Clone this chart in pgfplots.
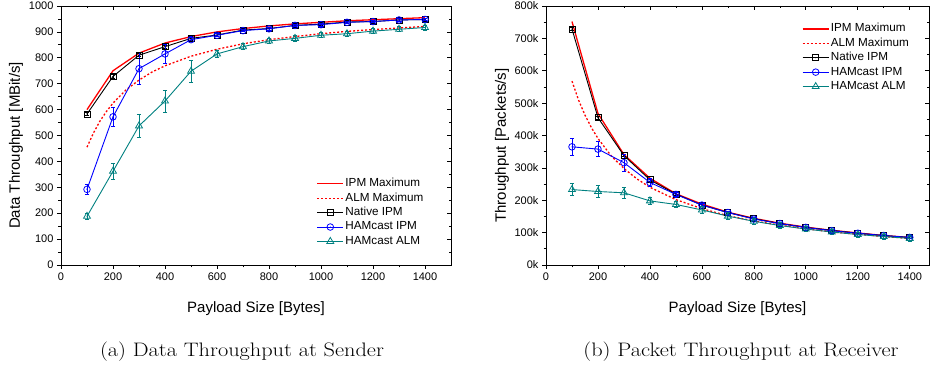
\documentclass[border=0pt]{standalone}
\usepackage{fontspec}
\newfontfamily\arial{Liberation Sans}
\usepackage{graphicx}
\usepackage{pgfplots}
\pgfplotsset{compat=1.18}
\definecolor{ipmred}{RGB}{255,0,0}
\definecolor{hamblue}{RGB}{0,0,255}
\definecolor{hamteal}{RGB}{0,128,128}
\pgfdeclareplotmark{sqdot}{\pgfuseplotmark{square}\pgfpathcircle{\pgfpointorigin}{0.55pt}\pgfusepathqfill}
\pgfdeclareplotmark{odot}{\pgfuseplotmark{o}\pgfpathcircle{\pgfpointorigin}{0.55pt}\pgfusepathqfill}
\pgfdeclareplotmark{tridot}{\pgfuseplotmark{triangle}\pgfpathcircle{\pgfpointorigin}{0.55pt}\pgfusepathqfill}
\pgfplotsset{
  baseaxis/.style={
    scale only axis, height=259pt, xmin=0,
    xtick={0,200,...,1400}, minor x tick num=1, minor y tick num=1,
    major tick length=4pt, minor tick length=2.5pt,
    tick style={black, line width=0.7pt},
    axis line style={black, line width=0.9pt},
    font=\arial,
    ticklabel style={font=\arial\fontsize{11}{13}\selectfont},
    /pgf/number format/1000 sep={},
    /pgf/number format/assume math mode=true,
  },
  mainaxis/.style={baseaxis, tick align=outside, xtick pos=left, ytick pos=left,
    xlabel style={at={(axis description cs:0.5,-0.1699)}, anchor=center, font=\arial\fontsize{15}{17}\selectfont},
    ylabel style={anchor=center, font=\arial\fontsize{15}{17}\selectfont},
    legend cell align=left,
    legend style={draw=none, fill=none, inner sep=0pt, row sep=0pt,
      font=\arial\fontsize{11.7}{14}\selectfont,
      nodes={inner sep=1.5pt, text height=8.6pt, text depth=2.8pt}},
    legend image code/.code={\draw[mark repeat=2,mark phase=2,##1] plot coordinates {(0pt,0pt) (13pt,0pt) (26pt,0pt)};},
  },
  overaxis/.style={baseaxis, tick align=inside, xtick pos=right, ytick pos=right,
    xticklabels={}, yticklabels={}},
  ipmmax/.style={color=ipmred, draw=ipmred, line width=1.3pt, no marks},
  almmax/.style={color=ipmred, draw=ipmred, line width=1.3pt, dash pattern=on 2pt off 2pt, no marks},
  native/.style={color=black, line width=0.9pt, mark=sqdot, mark size=3pt, mark options={solid, line width=0.8pt},
    error bars/error bar style={line width=0.8pt, black}, error bars/error mark options={rotate=90, mark size=2.2pt, line width=0.8pt, black}},
  hipm/.style={color=hamblue, line width=0.9pt, mark=odot, mark size=3.3pt, mark options={solid, line width=0.8pt},
    error bars/error bar style={line width=0.8pt, hamblue}, error bars/error mark options={rotate=90, mark size=2.2pt, line width=0.8pt, hamblue}},
  halm/.style={color=hamteal, line width=0.9pt, mark=tridot, mark size=4pt, mark options={solid, line width=0.8pt},
    error bars/error bar style={line width=0.8pt, hamteal}, error bars/error mark options={rotate=90, mark size=2.2pt, line width=0.8pt, hamteal}},
  errs/.style={error bars/.cd, y dir=both, y explicit},
}
\begin{document}
\begin{tikzpicture}
\useasboundingbox (0,0) rectangle (930pt,377pt);
% ---------------- left plot ----------------
\begin{axis}[mainaxis, at={(61pt,112pt)}, anchor=south west, width=390pt,
  xmax=1500, ymin=0, ymax=1000, ytick={0,100,...,1000},
  xlabel={Payload Size [Bytes]}, ylabel={Data Throughput [MBit/s]},
  ylabel style={at={(axis description cs:-0.1154,0.4614)}},
  legend style={at={(0.655,0.342)}, anchor=north west}]
\addplot[forget plot, ipmmax] coordinates {(100,600)(200,750)(300,818)(400,857)(500,882)(600,900)(700,913)(800,923)(900,931)(1000,937)(1100,943)(1200,947)(1300,951)(1400,955)};
\addplot[forget plot, almmax] coordinates {(100,455)(125,510)(150,556)(175,593)(200,625)(250,676)(300,714)(350,745)(400,769)(500,806)(600,833)(700,854)(800,870)(900,882)(1000,893)(1100,902)(1200,909)(1300,915)(1400,921)};
\addplot[forget plot, native, errs] coordinates {(100,583)+-(0,6) (200,728)+-(0,6) (300,810)+-(0,6) (400,843)+-(0,6) (500,875)+-(0,6) (600,888)+-(0,6) (700,907)+-(0,6) (800,913)+-(0,6) (900,925)+-(0,6) (1000,930)+-(0,6) (1100,938)+-(0,6) (1200,940)+-(0,6) (1300,946)+-(0,6) (1400,948)+-(0,6)};
\addplot[forget plot, hipm, errs] coordinates {(100,292)+-(0,20) (200,572)+-(0,38) (300,758)+-(0,62) (400,815)+-(0,37) (500,870)+-(0,8) (600,887)+-(0,6) (700,905)+-(0,5) (800,912)+-(0,5) (900,925)+-(0,5) (1000,928)+-(0,5) (1100,937)+-(0,5) (1200,940)+-(0,5) (1300,946)+-(0,5) (1400,948)+-(0,5)};
\addplot[forget plot, halm, errs] coordinates {(100,188)+-(0,12) (200,362)+-(0,30) (300,537)+-(0,45) (400,633)+-(0,43) (500,748)+-(0,42) (600,815)+-(0,15) (700,843)+-(0,12) (800,865)+-(0,10) (900,875)+-(0,10) (1000,887)+-(0,10) (1100,893)+-(0,10) (1200,903)+-(0,10) (1300,910)+-(0,10) (1400,917)+-(0,10)};
\addlegendimage{ipmred, line width=1.3pt}\addlegendentry{IPM Maximum}
\addlegendimage{ipmred, line width=1.3pt, dash pattern=on 2pt off 2pt}\addlegendentry{ALM Maximum}
\addlegendimage{black, line width=0.9pt, mark=sqdot, mark size=3pt, mark options={solid, line width=0.8pt}}\addlegendentry{Native IPM}
\addlegendimage{hamblue, line width=0.9pt, mark=odot, mark size=3.3pt, mark options={solid, line width=0.8pt}}\addlegendentry{HAMcast IPM}
\addlegendimage{hamteal, line width=0.9pt, mark=tridot, mark size=4pt, mark options={solid, line width=0.8pt}}\addlegendentry{HAMcast ALM}
\end{axis}
\begin{axis}[overaxis, at={(61pt,112pt)}, anchor=south west, width=390pt,
  xmax=1500, ymin=0, ymax=1000, ytick={0,100,...,1000}]
\end{axis}
% ---------------- right plot ----------------
\begin{axis}[mainaxis, at={(546pt,112pt)}, anchor=south west, width=383pt,
  xmax=1474, ymin=0, ymax=800, ytick={0,100,...,800},
  yticklabels={0k,100k,200k,300k,400k,500k,600k,700k,800k},
  xlabel={Payload Size [Bytes]}, ylabel={Throughput [Packets/s]},
  ylabel style={at={(axis description cs:-0.1149,0.4614)}},
  legend style={at={(0.668,0.94)}, anchor=north west}]
\addplot[forget plot, ipmmax] coordinates {(100,752)(200,468)(300,341)(400,268)(500,220)(600,188)(700,163)(800,144)(900,129)(1000,117)(1100,107)(1200,99)(1300,91)(1400,85)};
\addplot[forget plot, almmax] coordinates {(100,568)(125,510)(150,463)(175,424)(200,391)(250,338)(300,298)(350,266)(400,240)(500,202)(600,174)(700,152)(800,136)(900,123)(1000,112)(1100,102)(1200,95)(1300,88)(1400,82)};
\addplot[forget plot, native, errs] coordinates {(100,729)+-(0,4) (200,455)+-(0,4) (300,338)+-(0,4) (400,263)+-(0,4) (500,219)+-(0,4) (600,185)+-(0,4) (700,162)+-(0,4) (800,143)+-(0,4) (900,128)+-(0,4) (1000,116)+-(0,4) (1100,107)+-(0,4) (1200,98)+-(0,4) (1300,91)+-(0,4) (1400,85)+-(0,4)};
\addplot[forget plot, hipm, errs] coordinates {(100,365)+-(0,26) (200,358)+-(0,24) (300,316)+-(0,27) (400,255)+-(0,12) (500,218)+-(0,7) (600,185)+-(0,5) (700,162)+-(0,5) (800,142)+-(0,4) (900,128)+-(0,4) (1000,116)+-(0,4) (1100,106)+-(0,4) (1200,98)+-(0,4) (1300,91)+-(0,4) (1400,85)+-(0,4)};
\addplot[forget plot, halm, errs] coordinates {(100,233)+-(0,18) (200,227)+-(0,18) (300,223)+-(0,18) (400,198)+-(0,12) (500,187)+-(0,10) (600,170)+-(0,10) (700,151)+-(0,10) (800,135)+-(0,10) (900,122)+-(0,9) (1000,111)+-(0,8) (1100,102)+-(0,8) (1200,94)+-(0,8) (1300,88)+-(0,8) (1400,82)+-(0,8)};
\addlegendimage{ipmred, line width=1.3pt}\addlegendentry{IPM Maximum}
\addlegendimage{ipmred, line width=1.3pt, dash pattern=on 2pt off 2pt}\addlegendentry{ALM Maximum}
\addlegendimage{black, line width=0.9pt, mark=sqdot, mark size=3pt, mark options={solid, line width=0.8pt}}\addlegendentry{Native IPM}
\addlegendimage{hamblue, line width=0.9pt, mark=odot, mark size=3.3pt, mark options={solid, line width=0.8pt}}\addlegendentry{HAMcast IPM}
\addlegendimage{hamteal, line width=0.9pt, mark=tridot, mark size=4pt, mark options={solid, line width=0.8pt}}\addlegendentry{HAMcast ALM}
\end{axis}
\begin{axis}[overaxis, at={(546pt,112pt)}, anchor=south west, width=383pt,
  xmax=1474, ymin=0, ymax=800, ytick={0,100,...,800}]
\end{axis}
% ---------------- captions ----------------
\node[font=\fontsize{19.5}{23}\selectfont] at (242pt,25pt) {\scalebox{1.145}[1]{(a) Data Throughput at Sender}};
\node[font=\fontsize{19.5}{23}\selectfont] at (741pt,25pt) {\scalebox{1.145}[1]{(b) Packet Throughput at Receiver}};
\end{tikzpicture}
\end{document}
